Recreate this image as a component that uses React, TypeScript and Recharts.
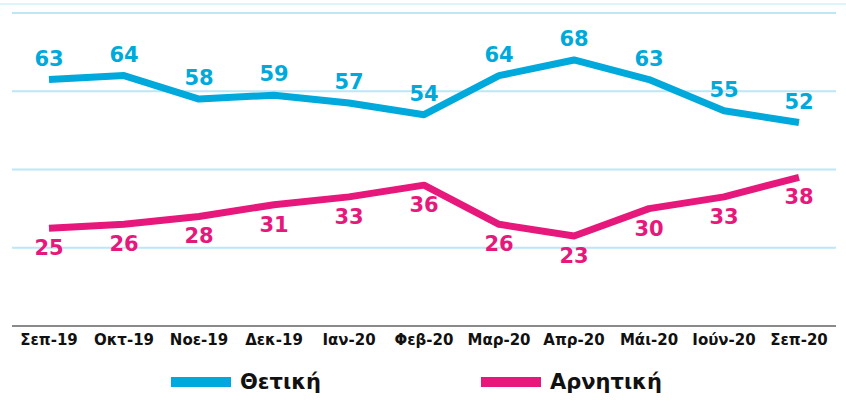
import { LineChart, Line, XAxis, YAxis, CartesianGrid, Legend, LabelList } from "recharts";

const months = ["Σεπ-19", "Οκτ-19", "Νοε-19", "Δεκ-19", "Ιαν-20", "Φεβ-20", "Μαρ-20", "Απρ-20", "Μάι-20", "Ιούν-20", "Σεπ-20"];
const positive = [63, 64, 58, 59, 57, 54, 64, 68, 63, 55, 52];
const negative = [25, 26, 28, 31, 33, 36, 26, 23, 30, 33, 38];
const yTicks = [0, 20, 40, 60, 80];

const CYAN = "#00a9db";
const PINK = "#e6187b";
const FONT = "'DejaVu Sans', sans-serif";

const chartData = months.map((m, i) => ({ month: m, pos: positive[i], neg: negative[i] }));

function LegendContent() {
  const items = [
    { name: "Θετική", color: CYAN, left: 171 },
    { name: "Αρνητική", color: PINK, left: 481 },
  ];
  return (
    <div style={{ position: "relative", height: 40, width: 846 }}>
      {items.map((it) => (
        <div
          key={it.name}
          style={{ position: "absolute", left: it.left, top: 0, display: "flex", alignItems: "center", height: 30 }}
        >
          <span style={{ display: "inline-block", width: 60, height: 10, background: it.color }} />
          <span style={{ marginLeft: 9, fontFamily: FONT, fontWeight: "bold", fontSize: 21, color: "#111" }}>
            {it.name}
          </span>
        </div>
      ))}
    </div>
  );
}

export default function App() {
  return (
    <div style={{ position: "absolute", left: 0, top: 0, width: 846, height: 417, background: "#fff" }}>
      <div style={{ position: "absolute", left: 0, top: 3, width: 846, height: 2, background: "#def4fb" }} />
      <LineChart width={846} height={417} data={chartData} margin={{ top: 13, right: 10, left: 12, bottom: 21 }}>
        <CartesianGrid vertical={false} stroke="#bde6f7" strokeWidth={2} />
        <XAxis
          dataKey="month"
          axisLine={{ stroke: "#8a8a8a", strokeWidth: 2 }}
          tickLine={false}
          height={30}
          interval={0}
          padding={{ left: 37, right: 37 }}
          tick={{ fontFamily: FONT, fontWeight: "bold", fontSize: 15, fill: "#111" }}
        />
        <YAxis hide domain={[0, 80]} ticks={yTicks} />
        <Legend
          content={<LegendContent />}
          height={40}
          wrapperStyle={{ position: "absolute", top: 367, left: 0, width: 846 }}
        />
        <Line
          dataKey="pos"
          name="Θετική"
          stroke={CYAN}
          strokeWidth={7}
          strokeLinejoin="round"
          dot={false}
          type="linear"
          isAnimationActive={false}
        >
          <LabelList
            dataKey="pos"
            position="top"
            offset={14}
            style={{ fontFamily: FONT, fontWeight: "bold", fontSize: 21, fill: CYAN }}
          />
        </Line>
        <Line
          dataKey="neg"
          name="Αρνητική"
          stroke={PINK}
          strokeWidth={7}
          strokeLinejoin="round"
          dot={false}
          type="linear"
          isAnimationActive={false}
        >
          <LabelList
            dataKey="neg"
            position="bottom"
            offset={12}
            style={{ fontFamily: FONT, fontWeight: "bold", fontSize: 21, fill: PINK }}
          />
        </Line>
      </LineChart>
    </div>
  );
}
